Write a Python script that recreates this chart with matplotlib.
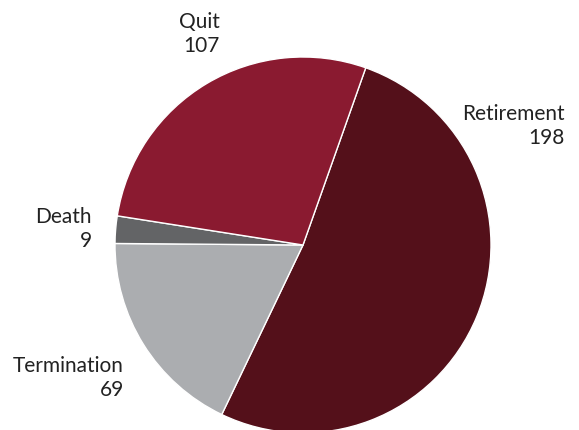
import matplotlib.pyplot as plt

# slice data, in clockwise order from the top
categories = ["Retirement", "Termination", "Death", "Quit"]
counts = [198, 69, 9, 107]
colors = ["#54101a", "#abadb0", "#636466", "#8a1a30"]

plt.rcParams['font.family'] = ['Lato', 'DejaVu Sans']

fig = plt.figure(figsize=(5.79, 4.30), dpi=100)
ax = fig.add_axes([0, 0, 1, 1])

ax.pie(counts, colors=colors, startangle=70.5, counterclock=False,
       radius=1.0, wedgeprops=dict(edgecolor="white", linewidth=1.0))

# pixel-based frame: pie centre at (303, 245), radius 188 px
cx, cy, r = 303, 245, 188
ax.set_xlim(-cx / r, (579 - cx) / r)
ax.set_ylim(-(430 - cy) / r, cy / r)
ax.set_aspect('auto')
ax.axis('off')

# label positions in pixels (right edge, vertical centre)
label_pos = {
    "Retirement": (565, 126),
    "Termination": (124, 378),
    "Death": (92, 229),
    "Quit": (220, 34),
}
for name, val in zip(categories, counts):
    px, py = label_pos[name]
    ax.text((px - cx) / r, (cy - py) / r, f"{name}\n{val}",
            ha="right", va="center", fontsize=15, color="#222222",
            linespacing=1.25, multialignment="right")

fig.savefig("out.png", dpi=100)
